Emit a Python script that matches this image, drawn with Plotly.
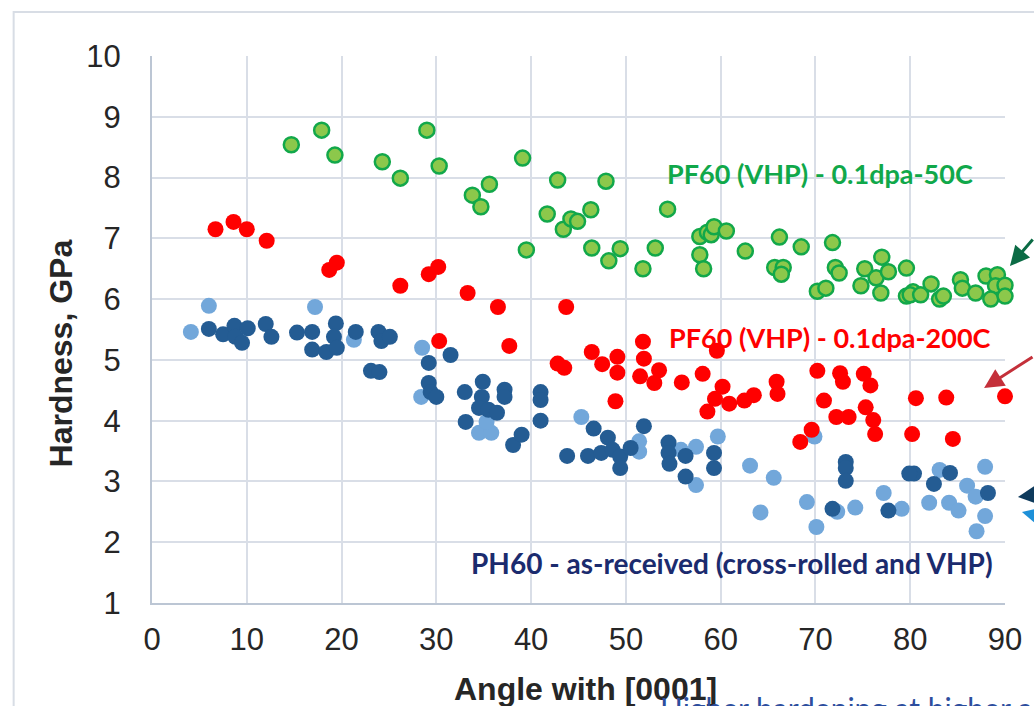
import plotly.graph_objects as go

# ---------------- data ----------------
green_x = [14.7, 17.9, 19.3, 24.3, 26.2, 29.0, 30.3, 33.8, 34.7, 35.6, 39.1, 39.5, 41.7, 42.8, 43.4,
           44.2, 44.9, 46.3, 46.4, 47.9, 48.2, 49.4, 51.8, 53.1, 54.4, 57.8, 57.8, 58.2, 58.6, 59.0,
           59.3, 60.6, 62.6, 66.2, 65.7, 66.6, 66.4, 68.5, 71.8, 70.2, 71.1, 72.1, 72.5, 75.2, 74.8,
           76.4, 77.0, 77.7, 76.9, 79.6, 79.6, 80.3, 80.0, 81.1, 82.2, 83.1, 83.5, 85.3, 85.5, 86.9,
           88.0, 89.2, 89.0, 90.0, 88.5, 90.0]
green_y = [8.54, 8.78, 8.37, 8.26, 7.99, 8.78, 8.19, 7.71, 7.52, 7.89, 8.32, 6.81, 7.40, 7.96, 7.15,
           7.32, 7.28, 7.47, 6.84, 7.94, 6.63, 6.83, 6.50, 6.84, 7.48, 7.03, 6.73, 6.50, 7.10, 7.06,
           7.19, 7.12, 6.79, 7.02, 6.52, 6.52, 6.41, 6.86, 6.93, 6.13, 6.18, 6.52, 6.43, 6.50, 6.22,
           6.35, 6.69, 6.45, 6.10, 6.51, 6.05, 6.12, 6.07, 6.07, 6.25, 6.00, 6.05, 6.32, 6.18, 6.10,
           6.38, 6.40, 6.22, 6.23, 6.00, 6.05]

red_x = [6.7, 8.6, 10.0, 12.1, 18.7, 19.5, 26.2, 29.2, 30.2, 30.3, 33.3, 36.5, 37.7, 43.7, 42.8,
         43.5, 46.4, 47.5, 49.1, 49.1, 48.9, 51.8, 51.9, 51.5, 53.0, 53.5, 55.9, 58.1, 59.6, 60.2,
         59.4, 58.6, 60.9, 62.5, 63.5, 65.9, 66.0, 70.2, 72.6, 72.9, 75.1, 75.8, 70.9, 72.2, 73.5,
         75.3, 76.1, 76.3, 69.6, 68.4, 80.6, 83.8, 80.2, 84.5, 90.0]
red_y = [7.15, 7.27, 7.15, 6.96, 6.48, 6.60, 6.22, 6.41, 6.53, 5.31, 6.10, 5.87, 5.23, 5.87, 4.94,
         4.87, 5.13, 4.93, 5.05, 4.79, 4.32, 5.30, 5.02, 4.73, 4.62, 4.83, 4.63, 4.77, 5.15, 4.56,
         4.36, 4.15, 4.28, 4.33, 4.42, 4.64, 4.44, 4.82, 4.78, 4.64, 4.77, 4.58, 4.33, 4.06, 4.06,
         4.22, 4.01, 3.78, 3.85, 3.65, 4.37, 4.38, 3.78, 3.70, 4.40]

dark_x = [6.0, 7.5, 8.7, 8.8, 9.5, 10.1, 12.0, 12.6, 15.3, 16.9, 16.9, 18.4, 19.4, 19.2, 19.5,
          21.5, 23.9, 24.2, 25.1, 23.1, 24.0, 31.5, 29.2, 29.2, 29.4, 30.0, 33.0, 33.1, 34.9, 34.8,
          34.5, 35.5, 36.4, 37.2, 37.2, 38.1, 39.0, 41.0, 41.0, 41.0, 43.8, 46.6, 46.0, 47.4, 48.1,
          48.6, 49.4, 49.4, 50.5, 51.9, 54.5, 54.5, 54.6, 56.3, 56.3, 59.3, 59.3, 73.2, 73.2, 73.2,
          71.8, 77.7, 80.4, 79.9, 82.5, 84.2, 88.2]
dark_y = [5.51, 5.42, 5.56, 5.38, 5.28, 5.52, 5.59, 5.38, 5.45, 5.46, 5.17, 5.13, 5.60, 5.38, 5.20,
          5.46, 5.46, 5.31, 5.38, 4.82, 4.80, 5.08, 4.95, 4.62, 4.47, 4.39, 4.47, 3.98, 4.64, 4.39,
          4.21, 4.18, 4.13, 4.51, 4.39, 3.60, 3.77, 4.47, 4.34, 4.00, 3.42, 3.87, 3.42, 3.47, 3.72,
          3.52, 3.41, 3.22, 3.55, 3.91, 3.64, 3.47, 3.29, 3.42, 3.08, 3.47, 3.22, 3.32, 3.22, 3.01,
          2.55, 2.52, 3.13, 3.13, 2.96, 3.14, 2.81]

light_x = [4.1, 6.0, 17.2, 21.3, 28.5, 28.4, 34.5, 35.8, 35.3, 45.3, 51.4, 51.4, 55.8, 57.4, 57.4,
           59.7, 63.1, 64.2, 65.6, 69.1, 70.1, 69.9, 72.3, 74.2, 77.2, 79.1, 82.0, 83.1, 84.1, 85.1,
           86.0, 86.9, 87.9, 87.9, 87.0]
light_y = [5.46, 5.89, 5.87, 5.33, 5.20, 4.39, 3.80, 3.80, 3.98, 4.06, 3.66, 3.49, 3.52, 3.57, 2.94,
           3.74, 3.26, 2.49, 3.06, 2.66, 2.25, 3.74, 2.50, 2.57, 2.81, 2.55, 2.65, 3.19, 2.65, 2.52,
           2.93, 2.75, 3.24, 2.43, 2.18]

x_ticks = [0, 10, 20, 30, 40, 50, 60, 70, 80, 90]
y_ticks = [1, 2, 3, 4, 5, 6, 7, 8, 9, 10]

label_50 = "PF60 (VHP) - 0.1dpa-50C"
label_200 = "PF60 (VHP) - 0.1dpa-200C"
label_ph = "PH60 - as-received (cross-rolled and VHP)"
x_title = "Angle with [0001]"
y_title = "Hardness, GPa"
bottom_text = "Higher hardening at higher angles"

# ---------------- layout geometry ----------------
W, H = 1034, 706
L, R, T, B = 152, 25, 56, 103
PW, PH = W - L - R, H - T - B


def px(x):
    return (x - L) / PW


def py(y):
    return (H - B - y) / PH


GRID = "#D9DEE7"
AXIS = "#BCC6D4"
TXT = "#262626"

fig = go.Figure()
fig.add_trace(go.Scatter(x=light_x, y=light_y, mode="markers", cliponaxis=False,
                         marker=dict(size=16, color="#72A7DA", line=dict(width=0))))
fig.add_trace(go.Scatter(x=dark_x, y=dark_y, mode="markers", cliponaxis=False,
                         marker=dict(size=16, color="#245C93", line=dict(width=0))))
fig.add_trace(go.Scatter(x=red_x, y=red_y, mode="markers", cliponaxis=False,
                         marker=dict(size=16, color="#FF0000", line=dict(width=0))))
fig.add_trace(go.Scatter(x=green_x, y=green_y, mode="markers", cliponaxis=False,
                         marker=dict(size=15, color="#8CC84B", line=dict(width=2.5, color="#12A84A"))))

fig.update_xaxes(range=[0, 90], tickvals=x_ticks, showgrid=True, gridcolor=GRID, gridwidth=2,
                 showline=True, linecolor=AXIS, linewidth=2, zeroline=False,
                 ticks="outside", ticklen=8, tickcolor="rgba(0,0,0,0)",
                 tickfont=dict(family="Liberation Sans, Arial", size=31, color=TXT))
fig.update_yaxes(range=[1, 10], tickvals=y_ticks, showgrid=True, gridcolor=GRID, gridwidth=2,
                 showline=True, linecolor=AXIS, linewidth=2, zeroline=False,
                 ticks="outside", ticklen=23, tickcolor="rgba(0,0,0,0)",
                 tickfont=dict(family="Liberation Sans, Arial", size=31, color=TXT))

ann = []
# axis titles
ann.append(dict(text=y_title, x=px(61), y=py(353), xref="paper", yref="paper", textangle=-90,
                xanchor="center", yanchor="middle", showarrow=False,
                font=dict(family="Liberation Sans, Arial", size=32, color=TXT, weight="bold")))
ann.append(dict(text=x_title, x=px(588), y=py(689), xref="paper", yref="paper",
                xanchor="center", yanchor="middle", showarrow=False,
                font=dict(family="Liberation Sans, Arial", size=32, color=TXT, weight="bold")))
# series labels
ann.append(dict(text=label_50, x=px(667), y=py(173), xref="paper", yref="paper", xanchor="left",
                yanchor="middle", showarrow=False,
                font=dict(family="Lato", size=27, color="#10A84A", weight="bold")))
ann.append(dict(text=label_200, x=px(669), y=py(338), xref="paper", yref="paper", xanchor="left",
                yanchor="middle", showarrow=False,
                font=dict(family="Lato", size=27, color="#FF0000", weight="bold")))
ann.append(dict(text=label_ph, x=px(470), y=py(563), xref="paper", yref="paper", xanchor="left",
                yanchor="middle", showarrow=False,
                font=dict(family="Lato", size=28, color="#1B2B6E", weight="bold")))
# partially visible text at bottom of slide
ann.append(dict(text=bottom_text, x=px(660), y=py(688), xref="paper", yref="paper", xanchor="left",
                yanchor="top", showarrow=False, font=dict(family="Lato", size=30, color="#2D4E9E")))
# arrows coming from outside the crop
arrows = [((1014, 266), (50, -28), "#0B6B45"),
          ((988, 388), (70, -32), "#C4303A"),
          ((1022, 497), (50, -2), "#0E3A5C"),
          ((1026, 512), (50, 3), "#1E90D8")]
for (tx, ty), (dx, dy), col in arrows:
    ann.append(dict(text="", x=px(tx), y=py(ty), xref="paper", yref="paper", showarrow=True,
                    ax=dx, ay=dy, arrowhead=2, arrowsize=1.3, arrowwidth=3, arrowcolor=col,
                    standoff=0))

fig.update_layout(
    width=W, height=H, margin=dict(l=L, r=R, t=T, b=B),
    paper_bgcolor="white", plot_bgcolor="white", showlegend=False,
    annotations=ann,
    shapes=[dict(type="rect", xref="paper", yref="paper", x0=px(13), y0=py(760), x1=px(1100), y1=py(12),
                 line=dict(color="#D8DDE5", width=2), layer="below")],
)

fig.write_html("out.html")
